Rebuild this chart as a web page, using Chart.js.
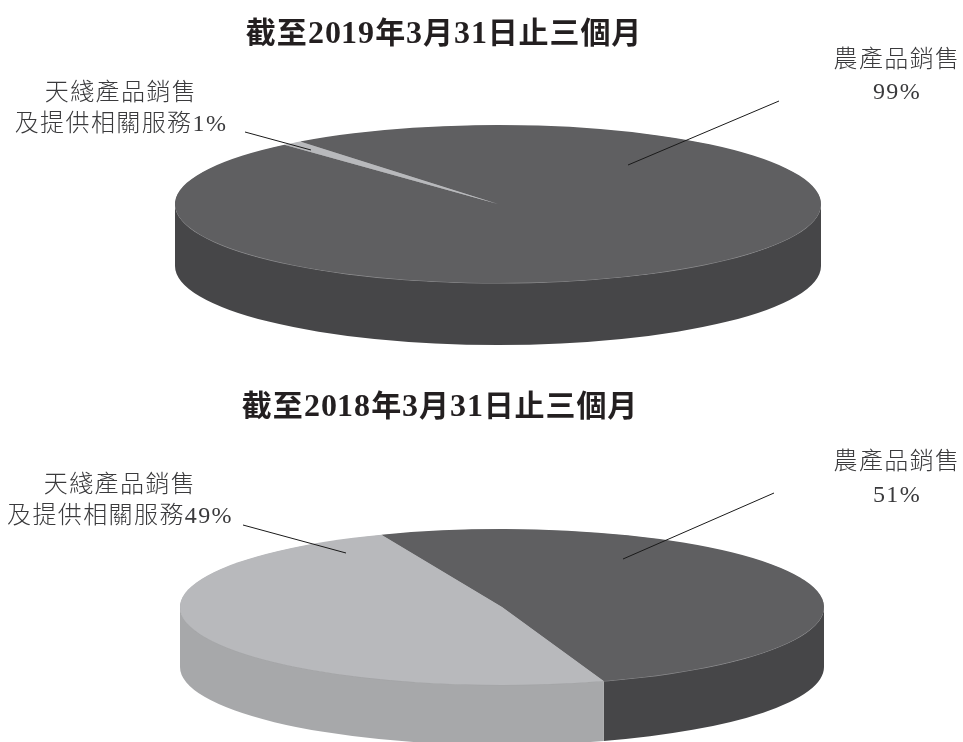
<!DOCTYPE html>
<html lang="zh-Hant">
<head>
<meta charset="utf-8">
<title>收益分佈</title>
<script src="https://cdn.jsdelivr.net/npm/chart.js@4/dist/chart.umd.min.js"></script>
<style>
@font-face{font-family:"TitleDigits";src:local("Liberation Serif Bold"),local("LiberationSerif-Bold");font-weight:bold;size-adjust:106%;unicode-range:U+0030-0039}
html,body{margin:0;padding:0;background:#fff;width:963px;height:742px;overflow:hidden}
canvas{position:absolute;left:0;top:0}
</style>
</head>
<body>
<canvas id="pie2019" width="963" height="742"></canvas>
<canvas id="pie2018" width="963" height="742"></canvas>
<script>
const categories = ['農產品銷售', '天綫產品銷售及提供相關服務'];
const values2019 = [99, 1];
const values2018 = [51, 49];
const title2019 = '截至2019年3月31日止三個月';
const title2018 = '截至2018年3月31日止三個月';
const labels2019 = [['農產品銷售', '99%'], ['天綫產品銷售', '及提供相關服務1%']];
const labels2018 = [['農產品銷售', '51%'], ['天綫產品銷售', '及提供相關服務49%']];

const TOP_COLORS = ['#5f5f61', '#b8b9bc'];
const WALL_COLORS = ['#464648', '#a7a8aa'];
const RIM_COLORS = ['#8c8c8e', '#a3a4a6'];
const FONT_STACK = '"Liberation Serif","Noto Sans CJK TC"';
const TITLE_STACK = '"TitleDigits","Liberation Serif","Noto Sans CJK TC"';

function arcOptions(color) {
  return {backgroundColor: color, borderColor: color, borderWidth: 0, borderAlign: 'center',
    borderRadius: 0, offset: 0, spacing: 0, circular: true, selfJoin: false,
    borderDash: [], borderDashOffset: 0};
}

const pie3d = {
  id: 'pie3d',
  beforeDatasetsDraw(chart, args, o) {
    const ctx = chart.ctx;
    const arcs = chart.getDatasetMeta(0).data;
    const TAU = Math.PI * 2;
    // Front wall of each slice, taken from the angles the library computed for its arc.
    arcs.forEach((arc, i) => {
      ctx.fillStyle = WALL_COLORS[i];
      for (let k = -1; k <= 1; k++) {
        const lo = Math.max(arc.startAngle, TAU * k);
        const hi = Math.min(arc.endAngle, Math.PI + TAU * k);
        if (hi <= lo) continue;
        ctx.beginPath();
        ctx.ellipse(arc.x, o.cy, arc.outerRadius, o.ry, 0, lo, hi);
        ctx.ellipse(arc.x, o.cy + o.depth, arc.outerRadius, o.ry, 0, hi, lo, true);
        ctx.closePath();
        ctx.fill();
      }
    });
    const layer = (dy, colors) => {
      ctx.save();
      ctx.translate(0, o.cy + dy);
      ctx.scale(1, o.ry / o.rx);
      ctx.translate(0, -arcs[0].y);
      arcs.forEach((arc, i) => {
        const copy = Object.create(arc);
        copy.options = arcOptions(colors[i]);
        arc.draw.call(copy, ctx);
      });
      ctx.restore();
    };
    layer(0.6, RIM_COLORS);
    layer(0, TOP_COLORS);
    return false;
  },
  afterDraw(chart, args, o) {
    const ctx = chart.ctx;
    ctx.save();
    ctx.strokeStyle = '#1a1a1a';
    ctx.lineWidth = 1;
    o.leaders.forEach(l => {
      ctx.beginPath();
      ctx.moveTo(l[0], l[1]);
      ctx.lineTo(l[2], l[3]);
      ctx.stroke();
    });
    ctx.textAlign = 'center';
    ctx.textBaseline = 'middle';
    ctx.fillStyle = '#231f20';
    ctx.letterSpacing = '0.9px';
    ctx.font = 'bold 30px ' + TITLE_STACK;
    ctx.fillText(o.title, o.titleX, o.titleY);
    ctx.fillStyle = '#3a3a3c';
    ctx.letterSpacing = '1.4px';
    ctx.font = '300 24px ' + FONT_STACK;
    o.labels.forEach((lines, i) => {
      lines.forEach((t, j) => {
        ctx.fillText(t, o.labelX[i], o.labelY[i] + j * o.lineGap[i]);
      });
    });
    ctx.restore();
  }
};

function makePie(id, values, rotation, geom) {
  return new Chart(document.getElementById(id), {
    type: 'pie',
    data: {labels: categories, datasets: [{data: values, backgroundColor: TOP_COLORS, borderWidth: 0}]},
    options: {
      responsive: false,
      animation: false,
      rotation: rotation,
      events: [],
      layout: {padding: {left: geom.cx - geom.rx, right: 963 - geom.cx - geom.rx, top: 0, bottom: 742 - 2 * geom.rx}},
      plugins: {legend: {display: false}, tooltip: {enabled: false}, pie3d: geom}
    },
    plugins: [pie3d]
  });
}

function drawAll() {
  makePie('pie2019', values2019, -37.8, {
    cx: 498, cy: 204, rx: 323, ry: 79, depth: 62,
    title: title2019, titleX: 444, titleY: 35,
    labels: labels2019, labelX: [897, 121], labelY: [61, 94], lineGap: [32, 31],
    leaders: [[628, 165, 779, 101], [245, 132, 311, 150]]
  });
  makePie('pie2018', values2018, -22, {
    cx: 502, cy: 607, rx: 322, ry: 78, depth: 60,
    title: title2018, titleX: 440, titleY: 408,
    labels: labels2018, labelX: [897, 120], labelY: [463, 486], lineGap: [33, 31],
    leaders: [[623, 559, 774, 493], [243, 525, 346, 553]]
  });
}
document.fonts.load('bold 30px "TitleDigits"', '2019').then(drawAll, drawAll);
</script>
</body>
</html>
